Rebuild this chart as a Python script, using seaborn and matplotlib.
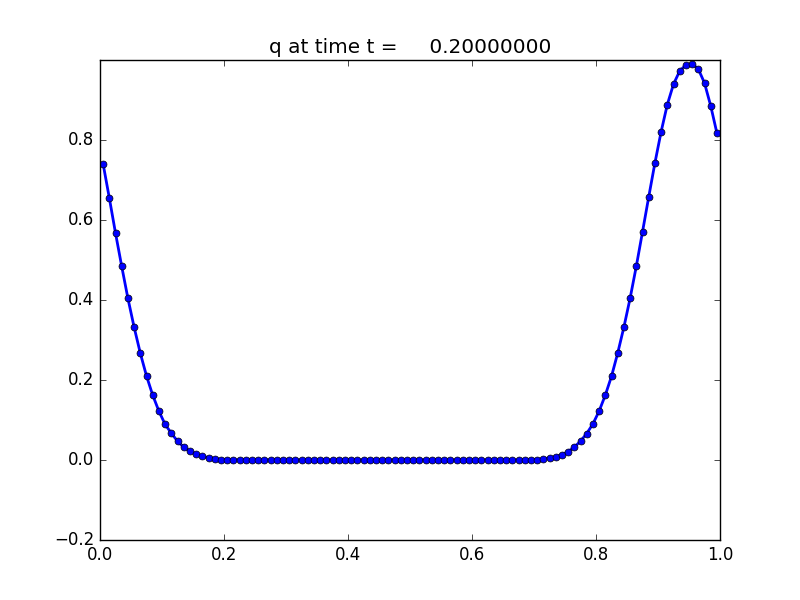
import numpy as np
import matplotlib
matplotlib.use("Agg")
import matplotlib.pyplot as plt
import seaborn as sns

# cell centres
x_vals = np.arange(100) * 0.01 + 0.005

q_left = [0.740, 0.655, 0.567, 0.484, 0.404, 0.332, 0.267, 0.210, 0.162, 0.122,
          0.089, 0.067, 0.047, 0.032, 0.022, 0.014, 0.009, 0.006, 0.003, 0.001]
q_mid = [0.0] * 49
q_right = [0.0005, 0.001, 0.003, 0.005, 0.008, 0.013, 0.021, 0.032, 0.047, 0.066,
           0.090, 0.122, 0.162, 0.209, 0.267, 0.332, 0.404, 0.484, 0.570, 0.657,
           0.742, 0.820, 0.888, 0.939, 0.972, 0.987, 0.990, 0.977, 0.942, 0.885,
           0.817]
q_vals = q_left + q_mid + q_right

title_text = "q at time t =     0.20000000"
x_ticks = [0.0, 0.2, 0.4, 0.6, 0.8, 1.0]
y_ticks = [-0.2, 0.0, 0.2, 0.4, 0.6, 0.8]

plt.style.use("classic")
plt.rcParams["font.family"] = ["DejaVu Sans"]

fig, ax = plt.subplots(figsize=(8, 6), dpi=100)
fig.patch.set_facecolor("white")
sns.lineplot(x=x_vals, y=q_vals, ax=ax, color="b", linewidth=2,
             marker="o", markersize=5, markeredgecolor="k",
             markeredgewidth=0.5, markerfacecolor="b", estimator=None,
             sort=False)
ax.set_xlim(0, 1)
ax.set_ylim(-0.2, 0.9995)
ax.set_xticks(x_ticks)
ax.set_yticks(y_ticks)
ax.set_title(title_text, fontsize=14.4)
ax.set_xlabel("")
ax.set_ylabel("")
fig.savefig("out.png", dpi=100, facecolor="white")
